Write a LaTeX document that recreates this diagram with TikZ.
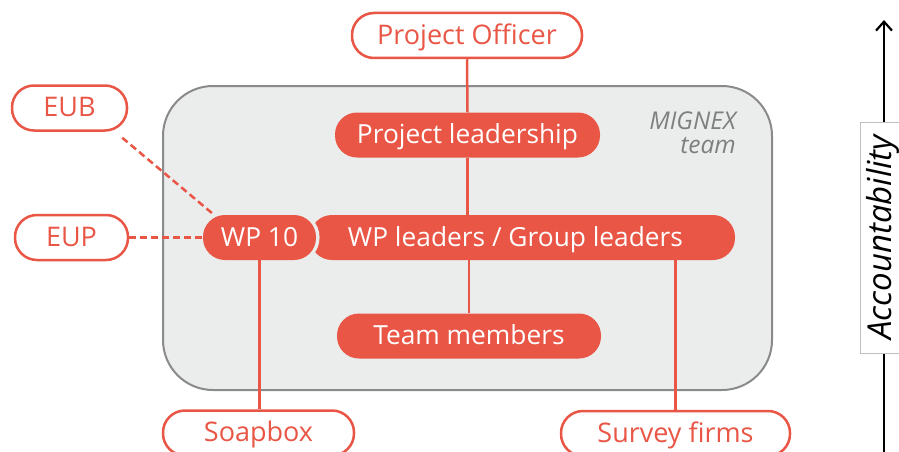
\documentclass[tikz,border=0pt]{standalone}
\usepackage{fontspec}
\setmainfont{Open Sans}
\usetikzlibrary{arrows.meta}
\definecolor{red1}{HTML}{E95646}
\definecolor{boxfill}{HTML}{EBECEC}
\definecolor{boxline}{HTML}{8A8A8A}
\definecolor{labgray}{HTML}{7F7F7F}
\tikzset{
  pillbase/.style={rectangle, rounded corners=22pt, minimum height=45pt, inner sep=0pt, text height=17.5pt, text depth=0pt},
  outpill/.style={pillbase, draw=red1, line width=2.5pt, fill=white, text=red1, font=\fontsize{27}{30}\selectfont},
  fillpill/.style={pillbase, fill=red1, text=white, font=\fontsize{26.3}{30}\selectfont},
  conn/.style={draw=red1, line width=2.5pt},
  dconn/.style={conn, dash pattern=on 7pt off 4pt},
  teamlab/.style={font=\itshape\fontsize{24.5}{26}\selectfont, text=labgray, anchor=base east, inner sep=0pt},
}
\begin{document}
\begin{tikzpicture}[x=1pt,y=-1pt]
\useasboundingbox (0,0) rectangle (899,452);
% team box
\draw[fill=boxfill, draw=boxline, line width=2pt, rounded corners=50pt] (163,86) rectangle (772,390);
\node[teamlab] (mignex) at (736,129.5) {MIGNEX};
\node[teamlab] (mteam) at (736,153) {team};
% nodes
\node[outpill, minimum width=230pt] (PO) at (467,35.5) {Project Officer};
\node[fillpill, minimum width=265pt] (PL) at (467.5,135) {Project leadership};
\node[fillpill, minimum width=425pt] (bar) at (522.5,237.5) {};
\node[text=white, font=\fontsize{26.3}{30}\selectfont, inner sep=0pt, text height=17.5pt, text depth=0pt] (barlab) at (515.5,237.5) {WP leaders / Group leaders};
\begin{scope}
  \clip (bar.north west) rectangle (bar.south east);
  \fill[boxfill, rounded corners=25pt] (200,212) rectangle (319.5,263);
\end{scope}
\node[fillpill, minimum width=113pt] (WP) at (259.5,237.5) {WP 10};
\node[fillpill, minimum width=264pt] (TM) at (469,336) {Team members};
\node[outpill, minimum width=115pt] (EUB) at (69.5,108) {EUB};
\node[outpill, minimum width=113pt] (EUP) at (71.5,237.5) {EUP};
\node[outpill, minimum width=191pt] (SB) at (258.5,433) {Soapbox};
\node[outpill, minimum width=229pt] (SF) at (675.5,433.5) {Survey firms};
% connectors
\draw[conn] (PO.south) -- (PL.north);
\draw[conn] (PL.south) -- (PL.south |- bar.north);
\draw[conn] (bar.south -| TM.north) -- (TM.north);
\draw[conn] (WP.south) -- (WP.south |- SB.north);
\draw[conn] (bar.south -| SF.north) -- (SF.north);
\draw[dconn] ([xshift=-6pt,yshift=-6pt]EUB.south east) -- ([xshift=10pt,yshift=1pt]WP.north west);
\draw[dconn] (EUP.east) -- (WP.west);
% accountability
\coordinate (abot) at (884,452);
\coordinate (atop) at (884,20);
\draw[line width=2.2pt, -{Straight Barb[length=9pt,width=16pt,line width=2.2pt]}] (abot) -- (atop);
\node[draw=black!25, fill=white, line width=1pt, minimum width=45pt, minimum height=231pt, inner sep=0pt] (abox) at (882.5,237.5) {};
\node[rotate=90, font=\itshape\fontsize{33}{36}\selectfont, inner sep=0pt] (alab) at (abox.center) {Accountability};
\end{tikzpicture}
\end{document}
